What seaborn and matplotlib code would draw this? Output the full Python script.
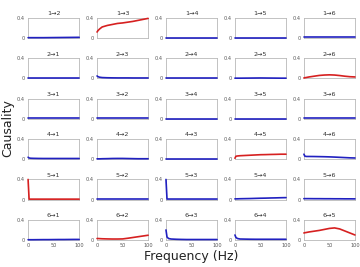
import matplotlib
matplotlib.use("Agg")
import matplotlib.pyplot as plt
import seaborn as sns
import pandas as pd

freq = [0, 2, 5, 10, 20, 30, 40, 50, 60, 70, 80, 90, 100]

c12 = [0.008, 0.008, 0.008, 0.008, 0.008, 0.008, 0.009, 0.010, 0.011, 0.012, 0.013, 0.014, 0.015]
c13 = [0.12, 0.15, 0.18, 0.22, 0.25, 0.27, 0.29, 0.30, 0.315, 0.33, 0.35, 0.37, 0.39]
c14 = [0.008, 0.008, 0.008, 0.008, 0.008, 0.008, 0.008, 0.008, 0.008, 0.008, 0.008, 0.008, 0.008]
c15 = [0.004, 0.004, 0.004, 0.004, 0.004, 0.004, 0.004, 0.004, 0.004, 0.004, 0.004, 0.004, 0.004]
c16 = [0.015, 0.015, 0.015, 0.015, 0.015, 0.015, 0.015, 0.015, 0.015, 0.015, 0.015, 0.015, 0.015]

c21 = [0.006, 0.006, 0.006, 0.006, 0.006, 0.006, 0.006, 0.006, 0.006, 0.006, 0.006, 0.006, 0.006]
c23 = [0.05, 0.035, 0.025, 0.018, 0.014, 0.012, 0.011, 0.011, 0.011, 0.010, 0.010, 0.010, 0.010]
c24 = [0.006, 0.006, 0.006, 0.006, 0.006, 0.006, 0.006, 0.006, 0.006, 0.006, 0.006, 0.006, 0.006]
c25 = [0.006, 0.006, 0.006, 0.006, 0.007, 0.008, 0.009, 0.010, 0.009, 0.008, 0.007, 0.006, 0.006]
c26 = [0.01, 0.015, 0.02, 0.03, 0.045, 0.06, 0.068, 0.072, 0.068, 0.058, 0.045, 0.035, 0.03]

c31 = [0.015, 0.015, 0.015, 0.015, 0.015, 0.015, 0.015, 0.015, 0.015, 0.015, 0.015, 0.015, 0.015]
c32 = [0.010, 0.010, 0.010, 0.010, 0.010, 0.010, 0.010, 0.010, 0.010, 0.010, 0.010, 0.010, 0.010]
c34 = [0.006, 0.006, 0.006, 0.006, 0.006, 0.006, 0.006, 0.006, 0.006, 0.006, 0.006, 0.006, 0.006]
c35 = [0.006, 0.006, 0.006, 0.006, 0.006, 0.006, 0.006, 0.006, 0.006, 0.006, 0.006, 0.006, 0.006]
c36 = [0.015, 0.015, 0.015, 0.015, 0.015, 0.015, 0.015, 0.015, 0.015, 0.015, 0.015, 0.015, 0.015]

c41 = [0.04, 0.025, 0.02, 0.018, 0.016, 0.015, 0.015, 0.015, 0.015, 0.015, 0.015, 0.015, 0.015]
c42 = [0.008, 0.008, 0.008, 0.010, 0.012, 0.015, 0.016, 0.016, 0.014, 0.012, 0.010, 0.010, 0.010]
c43 = [0.010, 0.010, 0.010, 0.010, 0.010, 0.010, 0.010, 0.010, 0.010, 0.010, 0.010, 0.010, 0.010]
c45 = [0.02, 0.06, 0.065, 0.07, 0.075, 0.08, 0.085, 0.09, 0.092, 0.095, 0.097, 0.10, 0.10]
c46 = [0.10, 0.06, 0.055, 0.055, 0.054, 0.052, 0.05, 0.047, 0.043, 0.038, 0.033, 0.028, 0.025]

c51 = [0.40, 0.010, 0.010, 0.010, 0.010, 0.010, 0.010, 0.010, 0.010, 0.010, 0.010, 0.010, 0.010]
c52 = [0.008, 0.008, 0.008, 0.008, 0.008, 0.008, 0.008, 0.008, 0.008, 0.008, 0.008, 0.008, 0.008]
c53 = [0.40, 0.012, 0.012, 0.012, 0.012, 0.012, 0.012, 0.012, 0.012, 0.012, 0.012, 0.012, 0.012]
c54 = [0.015, 0.015, 0.016, 0.018, 0.020, 0.022, 0.025, 0.028, 0.030, 0.033, 0.035, 0.038, 0.040]
c56 = [0.020, 0.020, 0.020, 0.020, 0.019, 0.019, 0.018, 0.018, 0.017, 0.017, 0.016, 0.016, 0.015]

c61 = [0.006, 0.006, 0.006, 0.006, 0.007, 0.008, 0.008, 0.009, 0.010, 0.010, 0.011, 0.012, 0.012]
c62 = [0.03, 0.03, 0.028, 0.025, 0.022, 0.02, 0.02, 0.022, 0.035, 0.05, 0.065, 0.08, 0.095]
c63 = [0.20, 0.06, 0.03, 0.02, 0.015, 0.012, 0.010, 0.010, 0.010, 0.010, 0.010, 0.010, 0.010]
c64 = [0.10, 0.05, 0.03, 0.02, 0.018, 0.016, 0.015, 0.015, 0.015, 0.015, 0.015, 0.015, 0.015]
c65 = [0.14, 0.145, 0.15, 0.16, 0.175, 0.19, 0.21, 0.23, 0.24, 0.22, 0.18, 0.14, 0.10]

grid = [
    [None, c12, c13, c14, c15, c16],
    [c21, None, c23, c24, c25, c26],
    [c31, c32, None, c34, c35, c36],
    [c41, c42, c43, None, c45, c46],
    [c51, c52, c53, c54, None, c56],
    [c61, c62, c63, c64, c65, None],
]
red_pairs = [(1, 3), (2, 6), (4, 5), (5, 1), (6, 2), (6, 5)]

BLUE = "#2020c0"
RED = "#d62020"

sns.set_style("white")
plt.rcParams['font.family'] = ['DejaVu Sans']

fig, axes = plt.subplots(6, 5, figsize=(3.6, 2.67), dpi=100)
fig.subplots_adjust(left=0.078, right=0.986, top=0.933, bottom=0.101, wspace=0.35, hspace=1.0)

for i in range(6):
    targets = [j for j in range(6) if j != i]
    for k, j in enumerate(targets):
        ax = axes[i, k]
        vals = grid[i][j]
        df = pd.DataFrame({"freq": freq, "val": vals})
        color = RED if (i + 1, j + 1) in red_pairs else BLUE
        sns.lineplot(data=df, x="freq", y="val", ax=ax, color=color, linewidth=1.2,
                     zorder=3, clip_on=False)
        ax.set_xlim(0, 100)
        ax.set_ylim(0, 0.4)
        ax.set_yticks([0, 0.4])
        ax.set_yticklabels(["0", "0.4"])
        ax.set_xticks([0, 50, 100])
        if i == 5:
            ax.set_xticklabels(["0", "50", "100"])
        else:
            ax.set_xticklabels([])
            ax.tick_params(axis="x", length=0)
        ax.tick_params(labelsize=3.6, length=1.2, width=0.4, pad=1, colors="#555555")
        ax.set_xlabel("")
        ax.set_ylabel("")
        ax.set_title(f"{i + 1}\u2192{j + 1}", fontsize=4.6, pad=2, color="#333333")
        for s in ax.spines.values():
            s.set_color("#b8b8b8")
            s.set_linewidth(0.6)
            s.set_zorder(1)

fig.text(0.022, 0.52, "Causality", rotation=90, ha="center", va="center", fontsize=9, color="#222222")
fig.text(0.53, 0.04, "Frequency (Hz)", ha="center", va="center", fontsize=9, color="#222222")

fig.savefig("out.png", dpi=100)
